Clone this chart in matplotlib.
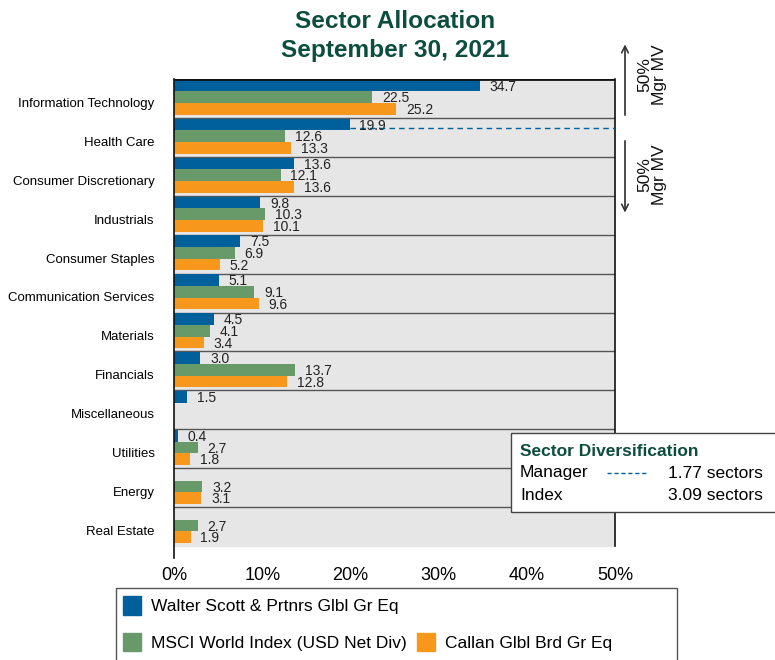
import numpy as np
import matplotlib
matplotlib.use("Agg")
import matplotlib.pyplot as plt
from matplotlib.patches import Rectangle
from matplotlib.lines import Line2D

plt.rcParams['font.family'] = ['Liberation Sans', 'DejaVu Sans']

# -----------------------------
# data
# -----------------------------
sectors = ["Information Technology", "Health Care", "Consumer Discretionary",
           "Industrials", "Consumer Staples", "Communication Services",
           "Materials", "Financials", "Miscellaneous", "Utilities",
           "Energy", "Real Estate"]
manager = [34.7, 19.9, 13.6, 9.8, 7.5, 5.1, 4.5, 3.0, 1.5, 0.4, None, None]
index_vals = [22.5, 12.6, 12.1, 10.3, 6.9, 9.1, 4.1, 13.7, None, 2.7, 3.2, 2.7]
callan = [25.2, 13.3, 13.6, 10.1, 5.2, 9.6, 3.4, 12.8, None, 1.8, 3.1, 1.9]

series_names = ["Walter Scott & Prtnrs Glbl Gr Eq",
                "MSCI World Index (USD Net Div)",
                "Callan Glbl Brd Gr Eq"]
colors = ["#00609C", "#679A68", "#F7981D"]

xticks = [0, 10, 20, 30, 40, 50]
xtick_labels = ["0%", "10%", "20%", "30%", "40%", "50%"]

div_manager = 1.77
div_index = 3.09

title_green = "#0D4D3D"

# -----------------------------
# figure
# -----------------------------
W, H = 775, 660
fig = plt.figure(figsize=(W / 100, H / 100), dpi=100)

def fx(px):
    return px / W

def fy(py):
    return 1 - py / H

ymax = 12.3
ax = fig.add_axes([fx(174), fy(79 + ymax * 38.92), fx(615) - fx(174), (ymax * 38.92) / H])
ax.set_xlim(0, 50)
ax.set_ylim(ymax, 0)
ax.set_facecolor("none")

n = len(sectors)
ax.axhspan(0, n, color="#E6E6E6", zorder=0)
for i in range(1, n):
    ax.axhline(i, color="#555555", lw=1, zorder=1)
ax.axhline(0, color="#111111", lw=2, zorder=3)
ax.plot([50, 50], [0, n], color="#111111", lw=1.2, zorder=3, clip_on=False)

offsets = [0.17, 0.47, 0.77]
bar_h = 0.30
for vals, off, col in zip([manager, index_vals, callan], offsets, colors):
    for i, v in enumerate(vals):
        if v is None:
            continue
        ax.barh(i + off, v, height=bar_h, color=col, zorder=2)
        ax.annotate(f"{v:.1f}", xy=(v, i + off + 0.03), xytext=(7, 0),
                    textcoords="offset points", ha="left", va="center",
                    fontsize=10, color="#222222", zorder=4)

# dashed manager diversification line
div_line_y = 1.26
ax.plot([manager[1], 50], [div_line_y, div_line_y], ls=(0, (4, 3)),
        color="#00609C", lw=1, zorder=3)

for side in ["top", "right", "bottom"]:
    ax.spines[side].set_visible(False)
ax.spines["left"].set_color("#111111")
ax.spines["left"].set_linewidth(1.2)

ax.set_yticks(np.arange(n) + 0.6)
ax.set_yticklabels(sectors, fontsize=9.5)
ax.tick_params(axis="y", length=0, pad=14)
ax.set_xticks(xticks)
ax.set_xticklabels(xtick_labels, fontsize=13)
ax.tick_params(axis="x", length=0, pad=7)

# title
fig.text(fx(395), fy(22), "Sector Allocation", ha="center", va="center",
         fontsize=17.6, fontweight="bold", color=title_green)
fig.text(fx(395), fy(50), "September 30, 2021", ha="center", va="center",
         fontsize=17.6, fontweight="bold", color=title_green)

# 50% Mgr MV arrows
arrow_kw = dict(arrowstyle="->", color="#333333", lw=0.9, mutation_scale=12)
fig.add_artist(plt.annotate("", xy=(fx(625), fy(42)), xytext=(fx(625), fy(118)),
                            xycoords="figure fraction", arrowprops=arrow_kw))
fig.add_artist(plt.annotate("", xy=(fx(625), fy(215)), xytext=(fx(625), fy(138)),
                            xycoords="figure fraction", arrowprops=arrow_kw))
for ty in [75, 175]:
    fig.text(fx(652), fy(ty), "50%\nMgr MV", rotation=90, ha="center", va="center",
             multialignment="center", fontsize=12.5, linespacing=0.95, color="#111111")

# sector diversification box
fig.add_artist(Rectangle((fx(511), fy(512)), fx(780) - fx(511), fy(433) - fy(512),
                         transform=fig.transFigure, facecolor="white",
                         edgecolor="#444444", lw=1, zorder=5))
fig.text(fx(520), fy(451), "Sector Diversification", ha="left", va="center",
         fontsize=12.5, fontweight="bold", color=title_green, zorder=6)
fig.text(fx(520), fy(473), "Manager", ha="left", va="center", fontsize=12.5, zorder=6)
fig.add_artist(Line2D([fx(607), fx(647)], [fy(473), fy(473)], transform=fig.transFigure,
                      ls=(0, (3, 2)), color="#00609C", lw=1, zorder=6))
fig.text(fx(763), fy(473), f"{div_manager:.2f} sectors", ha="right", va="center",
         fontsize=12.5, zorder=6)
fig.text(fx(520), fy(496), "Index", ha="left", va="center", fontsize=12.5, zorder=6)
fig.text(fx(763), fy(496), f"{div_index:.2f} sectors", ha="right", va="center",
         fontsize=12.5, zorder=6)

# legend
fig.add_artist(Rectangle((fx(116), fy(665)), fx(677) - fx(116), fy(588) - fy(665),
                         transform=fig.transFigure, facecolor="white",
                         edgecolor="#555555", lw=1, zorder=1))
handles = [Rectangle((0, 0), 1, 1, color=colors[0]),
           Rectangle((0, 0), 1, 1, color=colors[1]),
           Rectangle((0, 0), 1, 1, alpha=0),
           Rectangle((0, 0), 1, 1, color=colors[2])]
labels = [series_names[0], series_names[1], "", series_names[2]]
leg = fig.legend(handles, labels, ncol=2, loc="upper left",
                 bbox_to_anchor=(fx(111), fy(584)), frameon=False,
                 fontsize=12.5, handlelength=1.05, handleheight=1.25,
                 handletextpad=0.55, labelspacing=1.05, columnspacing=0.6,
                 borderpad=0.2)
leg.set_zorder(2)

fig.savefig("out.png", dpi=100)
